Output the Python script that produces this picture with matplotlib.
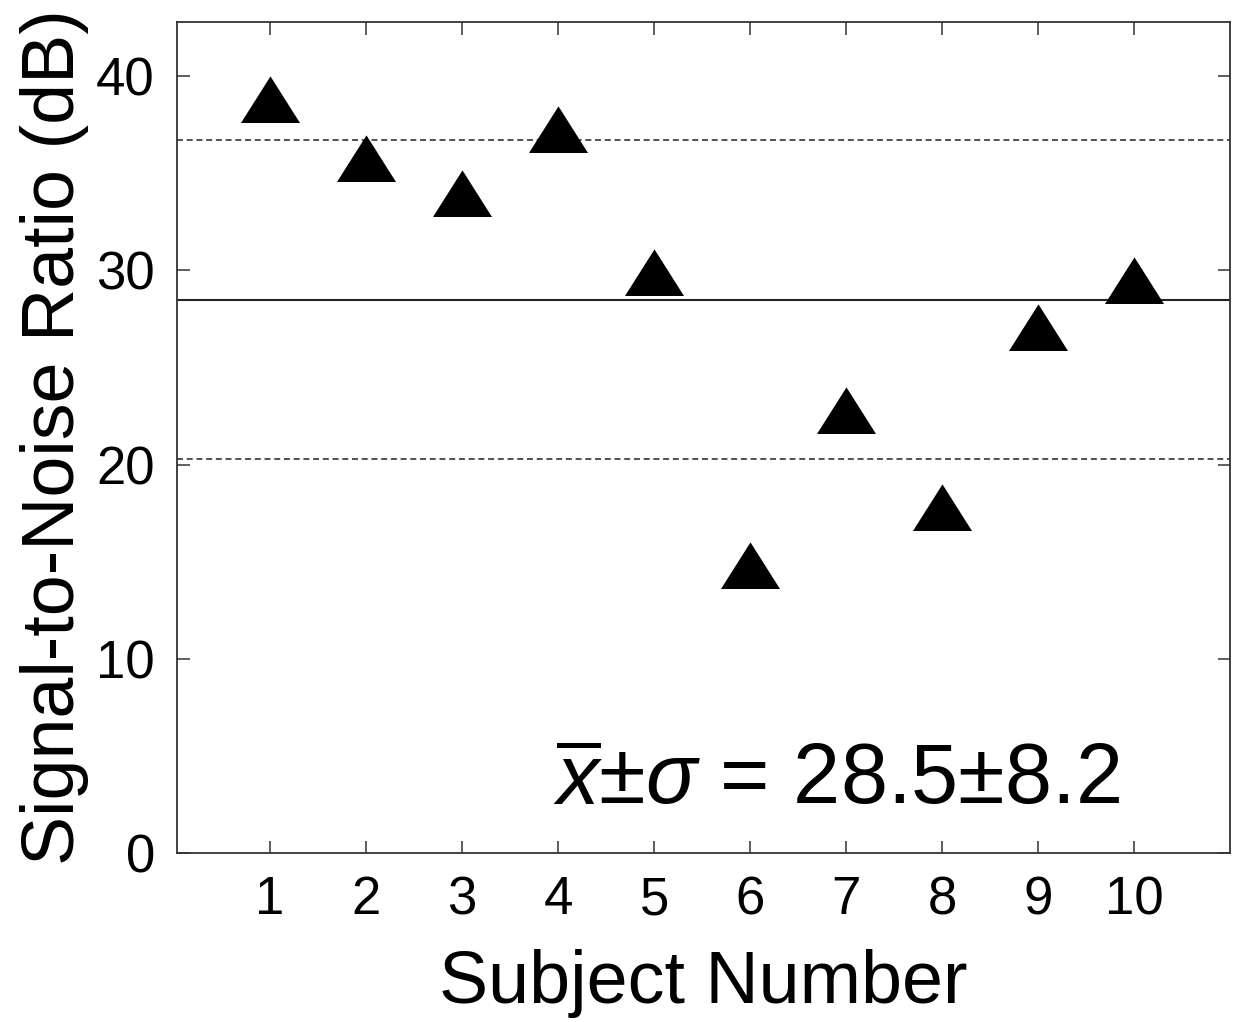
import numpy as np
import matplotlib.pyplot as plt
from matplotlib.path import Path

plt.rcParams['font.family'] = ['Liberation Sans', 'DejaVu Sans']
plt.rcParams['mathtext.fontset'] = 'custom'
plt.rcParams['mathtext.rm'] = 'Liberation Sans'
plt.rcParams['mathtext.it'] = 'Liberation Sans:italic'
plt.rcParams['lines.scale_dashes'] = False

subjects = [1, 2, 3, 4, 5, 6, 7, 8, 9, 10]
snr_db = [38.5, 35.5, 33.7, 37.0, 29.6, 14.5, 22.5, 17.5, 26.8, 29.2]
snr_mean = 28.5
snr_std = 8.2

# flat triangle, anchored a little below its vertical middle
tri = Path([(-1, -0.593), (1, -0.593), (0, 0.987), (-1, -0.593)],
           [Path.MOVETO, Path.LINETO, Path.LINETO, Path.CLOSEPOLY])

fig = plt.figure(figsize=(12.35, 10.22), dpi=100)
ax = fig.add_axes([0.1433, 0.1654, 0.8527, 0.8131])

ax.axhline(snr_mean, color='#222222', linewidth=1.5, zorder=1)
ax.axhline(snr_mean + snr_std, color='#222222', linewidth=1.1,
           linestyle=(0, (4.3, 2.7)), zorder=1)
ax.axhline(snr_mean - snr_std, color='#222222', linewidth=1.1,
           linestyle=(0, (4.3, 2.7)), zorder=1)

ax.plot(subjects, snr_db, linestyle='none', marker=tri, markersize=42.5,
        color='black', markeredgewidth=0, zorder=3)

ax.set_xlim(0.03, 11)
ax.set_ylim(0, 42.8)
ax.set_xticks(subjects)
ax.set_yticks([0, 10, 20, 30, 40])

ax.tick_params(direction='in', length=9, width=1.1, color='#333333',
               top=True, right=True, labelsize=38, pad=16)
for s in ax.spines.values():
    s.set_linewidth(1.3)
    s.set_color('#333333')

ax.set_xlabel('Subject Number', fontsize=53, labelpad=17)
ax.set_ylabel('Signal-to-Noise Ratio (dB)', fontsize=53, labelpad=5)

ax.text(3.95, 2.5, r'$\overline{x}$±$\sigma$ = 28.5±8.2', fontsize=61,
        ha='left', va='baseline')

fig.savefig('out.png', dpi=100)
